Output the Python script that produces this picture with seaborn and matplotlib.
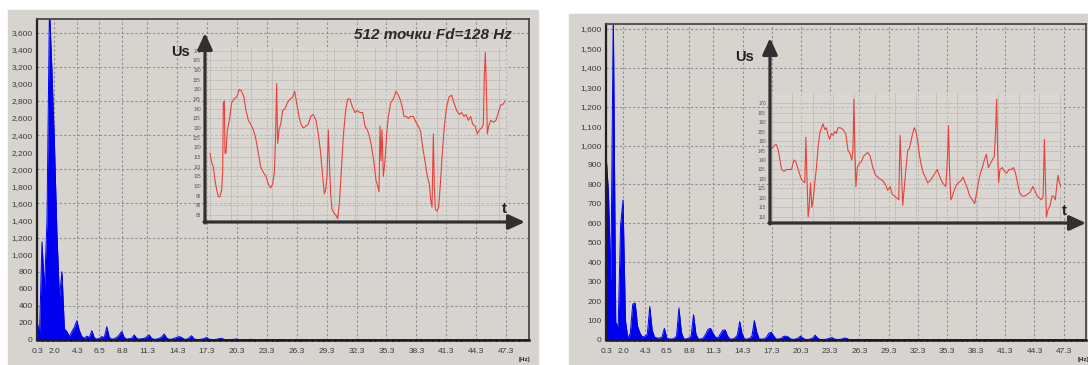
import numpy as np
import matplotlib
matplotlib.use("Agg")
import matplotlib.pyplot as plt
from matplotlib.patches import Rectangle
from matplotlib.ticker import MultipleLocator
import seaborn as sns
import pandas as pd

sns.set_theme(style="white")
plt.rcParams['font.family'] = ['Liberation Sans', 'DejaVu Sans']

# ---------------- data ----------------
freq_step = 0.25  # Hz per spectral bin (512 points, Fd = 128 Hz)

spec_left = [
    225, 60, 1150, 600, 1400, 3900, 3150, 2300, 1250, 500,
    800, 130, 100, 40, 100, 150, 225, 110, 40, 20,
    45, 30, 110, 25, 10, 20, 40, 30, 155, 30,
    10, 15, 30, 60, 100, 30, 10, 15, 20, 60,
    20, 10, 15, 20, 35, 60, 20, 8, 10, 20,
    35, 70, 25, 8, 10, 20, 30, 40, 30, 10,
    8, 25, 50, 15, 5, 5, 10, 15, 30, 10,
    5, 5, 8, 15, 20, 8, 3, 3, 5, 8,
    12, 5, 3, 3, 4, 6, 8, 4, 2, 2,
    3, 5, 6, 3, 2, 2, 3, 4, 5, 3,
    2, 2, 3, 2, 2, 3, 2, 2, 2, 3,
    2, 2, 2, 3, 2, 2, 2, 2, 3, 2,
    2, 2, 2, 2, 3, 2, 2, 2, 2, 2,
    2, 3, 2, 2, 2, 2, 2, 3, 2, 2,
    2, 2, 2, 2, 2, 2, 3, 2, 2, 2,
    2, 2, 2, 2, 2, 2, 2, 2, 2, 2,
    2, 2, 2, 2, 2, 2, 2, 2, 2, 2,
    2, 2, 2, 2, 2, 2, 2, 2, 2, 2,
    2, 2, 2, 2, 2, 2, 2, 2, 2, 2,
    2, 2, 2, 2, 2, 2, 2, 2,
]

spec_right = [
    960, 760, 300, 1700, 90, 70, 590, 720, 100, 10,
    35, 185, 190, 70, 35, 15, 20, 30, 172, 50,
    15, 10, 10, 15, 60, 10, 5, 5, 8, 20,
    165, 40, 5, 5, 10, 20, 130, 30, 5, 5,
    10, 30, 55, 60, 35, 15, 10, 30, 50, 52,
    20, 5, 5, 10, 25, 95, 30, 5, 5, 8,
    20, 100, 40, 5, 5, 5, 15, 35, 40, 20,
    5, 5, 8, 18, 20, 15, 5, 3, 5, 10,
    20, 10, 3, 3, 5, 10, 25, 10, 3, 3,
    3, 5, 10, 12, 5, 3, 3, 5, 10, 8,
    3, 2, 2, 3, 2, 2, 2, 3, 2, 2,
    2, 2, 2, 2, 2, 2, 2, 2, 2, 2,
    2, 2, 2, 2, 2, 2, 2, 2, 2, 2,
    2, 2, 2, 2, 2, 2, 2, 2, 2, 2,
    2, 2, 2, 2, 2, 2, 2, 2, 2, 2,
    2, 2, 2, 2, 2, 2, 2, 2, 2, 2,
    2, 2, 2, 2, 2, 2, 2, 2, 2, 2,
    2, 2, 2, 2, 2, 2, 2, 2, 2, 2,
    2, 2, 2, 2, 2, 2, 2, 2, 2, 2,
    2, 2, 2, 2, 2, 2, 2, 2,
]

x_tick_values = [0.3, 2.0, 4.3, 6.5, 8.8, 11.3, 14.3, 17.3, 20.3, 23.3,
                 26.3, 29.3, 32.3, 35.3, 38.3, 41.3, 44.3, 47.3]
x_tick_labels = ["0.3", "2.0", "4.3", "6.5", "8.8", "11.3", "14.3", "17.3", "20.3",
                 "23.3", "26.3", "29.3", "32.3", "35.3", "38.3", "41.3", "44.3", "47.3"]

y_ticks_left = list(range(0, 3601, 200))
y_grid_left = list(range(400, 3601, 400))
y_ticks_right = list(range(0, 1601, 100))
y_grid_right = list(range(200, 1601, 200))

# inset time series (time in arbitrary screen units, Us in inset units)
t_left = [0, 5, 10, 15, 20, 25, 30, 35, 38, 40, 43, 45, 48, 52, 58, 65, 72, 80, 88, 95,
          102, 108, 115, 122, 130, 138, 145, 152, 160, 168, 175, 182, 188, 193, 197, 200,
          203, 207, 212, 218, 225, 232, 240, 248, 254, 260, 267, 273, 280, 288, 295, 302,
          310, 318, 325, 332, 338, 343, 347, 351, 355, 358, 362, 366, 372, 378, 383, 388,
          394, 400, 407, 413, 420, 427, 435, 442, 450, 458, 465, 472, 478, 485, 492, 498,
          503, 507, 510, 513, 516, 520, 525, 530, 535, 542, 550, 558, 565, 572, 578, 582,
          588, 595, 602, 610, 618, 625, 632, 638, 645, 652, 658, 662, 666, 670, 673, 676,
          681, 686, 691, 697, 703, 710, 717, 725, 732, 740, 748, 755, 762, 768, 775, 782,
          788, 795, 802, 808, 815, 820, 823, 826, 829, 832, 836, 842, 850, 858, 865, 872,
          878, 885]
us_left = [117, 112, 110, 103, 98, 94.5, 94.5, 98, 107, 143, 144, 117, 117, 129, 134, 143,
           145, 146, 150, 149, 146, 139, 134, 132, 129, 124, 117, 110, 107, 105, 101, 99,
           101, 107, 127, 153, 122, 129, 132, 139, 140, 143, 145, 146, 149, 143, 136, 132,
           130, 131, 132, 136, 137, 134, 127, 117, 105, 96, 98, 105, 129, 113, 96, 88, 86,
           85, 83, 91, 108, 126, 139, 145, 145, 141, 138, 139, 138, 138, 131, 129, 126, 120,
           112, 103, 100, 97, 131, 113, 129, 105, 113, 127, 136, 143, 145, 149, 147, 144,
           140, 136, 136, 135, 136, 136, 133, 131, 128, 120, 113, 105, 101, 93, 89, 127,
           100, 88, 87, 89, 101, 117, 131, 141, 146, 147, 143, 139, 137, 138, 136, 137, 134,
           136, 132, 131, 127, 129, 130, 132, 157, 169, 151, 127, 131, 134, 133, 134, 138,
           142, 142, 144]

t_right = [0, 5, 10, 15, 20, 25, 30, 37, 45, 53, 60, 67, 73, 80, 87, 93, 100, 103, 106,
           110, 113, 117, 121, 125, 130, 135, 140, 145, 150, 155, 160, 165, 170, 175, 180,
           185, 190, 195, 200, 207, 215, 223, 230, 237, 241, 245, 248, 251, 254, 258, 263,
           270, 277, 283, 290, 297, 305, 313, 320, 327, 335, 343, 350, 357, 363, 370, 377,
           383, 387, 391, 395, 400, 405, 410, 415, 420, 425, 430, 435, 440, 445, 450, 457,
           463, 470, 477, 485, 492, 499, 505, 512, 519, 525, 530, 533, 536, 540, 545, 550,
           557, 563, 570, 577, 583, 590, 597, 605, 612, 617, 623, 629, 635, 641, 647, 653,
           659, 665, 671, 675, 678, 681, 684, 688, 695, 702, 708, 715, 722, 729, 735, 741,
           747, 755, 763, 771, 779, 787, 793, 800, 807, 813, 818, 822, 825, 828, 833, 839,
           845, 850, 855, 859, 863, 867, 871]
us_right = [146, 147, 148, 148, 145, 140, 135, 134, 135, 135, 135, 140, 139, 135, 131,
            129, 128, 152, 133, 110, 115, 128, 115, 119, 128, 136, 147, 154, 157, 159, 156,
            157, 153, 151, 154, 153, 155, 154, 157, 157, 156, 154, 145, 143, 140, 145, 172,
            143, 126, 136, 138, 139, 142, 143, 144, 142, 136, 132, 131, 130, 129, 127, 124,
            126, 122, 121, 120, 119, 153, 135, 116, 126, 136, 145, 146, 150, 154, 157, 155,
            150, 143, 138, 133, 131, 128, 129, 131, 133, 135, 132, 129, 127, 126, 142, 158,
            135, 119, 121, 124, 127, 128, 129, 131, 128, 125, 121, 119, 117, 122, 128, 133,
            136, 140, 143, 136, 138, 140, 142, 156, 172, 145, 128, 135, 136, 134, 133, 135,
            135, 136, 133, 128, 123, 121, 121, 122, 123, 126, 124, 121, 120, 119, 121, 151,
            129, 110, 114, 116, 121, 121, 119, 126, 132, 128, 126]

inset_ticks_left = list(range(85, 171, 5))
inset_ticks_right = list(range(110, 171, 5))

# ---------------- style ----------------
W, H = 1088, 365
PANEL = '#d7d4cf'
BLUE = '#0000f0'
RED = '#e8413c'
TICKC = '#3c3c3c'
GRIDC = '#8e8e8e'

fig = plt.figure(figsize=(W / 100, H / 100), dpi=100)
fig.patch.set_facecolor('white')


def px_rect(x0, y0, x1, y1):
    """figure-pixel box (top-left origin) -> axes rect"""
    return [x0 / W, (H - y1) / H, (x1 - x0) / W, (y1 - y0) / H]


fig.add_artist(Rectangle((8 / W, 0), (538 - 8) / W, (H - 10) / H,
                         transform=fig.transFigure, color=PANEL, zorder=0))
fig.add_artist(Rectangle((569 / W, 0), (W - 569) / W, (H - 14) / H,
                         transform=fig.transFigure, color=PANEL, zorder=0))


def spectrum_axes(rect, values, ymax, yticks, ygrid):
    ax = fig.add_axes(rect)
    ax.set_facecolor(PANEL)
    freqs = np.arange(1, len(values) + 1) * freq_step
    df = pd.DataFrame({'f': freqs, 'a': values})
    ax.fill_between(df['f'], df['a'], color=BLUE, lw=0, zorder=3)
    sns.lineplot(data=df, x='f', y='a', ax=ax, color=BLUE, lw=0.7, zorder=4)
    ax.set_xlim(0.25, 49.6)
    ax.set_ylim(0, ymax)
    ax.set_xticks(x_tick_values)
    ax.set_xticklabels(x_tick_labels)
    ax.set_yticks(yticks)
    ax.set_yticklabels([f"{v:,}" for v in yticks])
    ax.tick_params(axis='both', length=0, labelsize=6, colors=TICKC)
    ax.tick_params(axis='x', pad=6)
    ax.tick_params(axis='y', pad=3)
    ax.set_xlabel('')
    ax.set_ylabel('')
    ax.grid(axis='x', color=GRIDC, lw=0.8, ls=(0, (2, 2)), zorder=1)
    for g in ygrid:
        ax.axhline(g, color=GRIDC, lw=0.8, ls=(0, (2, 2)), zorder=1)
    for s in ['top', 'right']:
        ax.spines[s].set_color('#4a4a4a')
        ax.spines[s].set_linewidth(1.3)
    ax.spines['left'].set_color('#222222')
    ax.spines['left'].set_linewidth(1.6)
    ax.spines['bottom'].set_color('#1a1a1a')
    ax.spines['bottom'].set_linewidth(1.8)
    ax.spines['bottom'].set_linestyle((0, (1.5, 0.8)))
    for s in ax.spines.values():
        s.set_zorder(6)
    return ax


def inset_axes(rect, t, us, ylim, yticks, xlim):
    ax = fig.add_axes(rect)
    ax.set_facecolor((0.87, 0.86, 0.84, 0.55))
    df = pd.DataFrame({'t': t, 'us': us})
    sns.lineplot(data=df, x='t', y='us', ax=ax, color=RED, lw=0.8, zorder=3)
    ax.set_xlim(*xlim)
    ax.set_ylim(*ylim)
    ax.set_yticks(yticks)
    ax.set_yticklabels([str(v) for v in yticks])
    ax.xaxis.set_major_locator(MultipleLocator(62))
    ax.set_xticklabels([])
    ax.tick_params(axis='y', length=0, labelsize=3.3, colors='#555555', pad=3)
    ax.tick_params(axis='x', length=0)
    ax.set_xlabel('')
    ax.set_ylabel('')
    ax.grid(True, color='#bdbab5', lw=0.5, zorder=1)
    for s in ax.spines.values():
        s.set_visible(False)
    return ax


ax_l = spectrum_axes(px_rect(37, 19, 529, 340), spec_left, 3760, y_ticks_left, y_grid_left)
ax_r = spectrum_axes(px_rect(606, 24, 1086, 340), spec_right, 1625, y_ticks_right, y_grid_right)

in_l = inset_axes(px_rect(205, 47, 507, 222), t_left, us_left, (81.4, 171.9),
                  inset_ticks_left, (-15, 891))
in_r = inset_axes(px_rect(770, 93, 1062, 223), t_right, us_right, (106.8, 175.3),
                  inset_ticks_right, (-5, 875))


def arrow(x0, y0, x1, y1):
    fig.add_artist(matplotlib.patches.FancyArrowPatch(
        (x0 / W, (H - y0) / H), (x1 / W, (H - y1) / H), transform=fig.transFigure,
        arrowstyle='-|>,head_length=0.7,head_width=0.32', mutation_scale=14,
        color='#303030', lw=2.3, zorder=10, shrinkA=0, shrinkB=0))


arrow(205, 223, 205, 33)
arrow(204, 222, 525, 222)
arrow(770, 224, 770, 38)
arrow(769, 223, 1086, 223)

fig.text(181 / W, (H - 52) / H, 'Us', fontsize=10.5, fontweight='bold', color='#222222',
         ha='center', va='center')
fig.text(745 / W, (H - 57) / H, 'Us', fontsize=10.5, fontweight='bold', color='#222222',
         ha='center', va='center')
fig.text(504 / W, (H - 209) / H, 't', fontsize=11, fontweight='bold', color='#222222',
         ha='center', va='center')
fig.text(1064 / W, (H - 211) / H, 't', fontsize=11, fontweight='bold', color='#222222',
         ha='center', va='center')
fig.text(512 / W, (H - 35) / H, '512 точки Fd=128 Hz', fontsize=11, fontweight='bold',
         fontstyle='italic', color='#2a2a2a', ha='right', va='center')
fig.text(519 / W, (H - 360) / H, '[Hz]', fontsize=4.5, fontweight='bold', color='#222222',
         ha='left', va='center')
fig.text(1078 / W, (H - 360) / H, '[Hz]', fontsize=4.5, fontweight='bold', color='#222222',
         ha='left', va='center')

fig.savefig('out.png', dpi=100, facecolor='white')
